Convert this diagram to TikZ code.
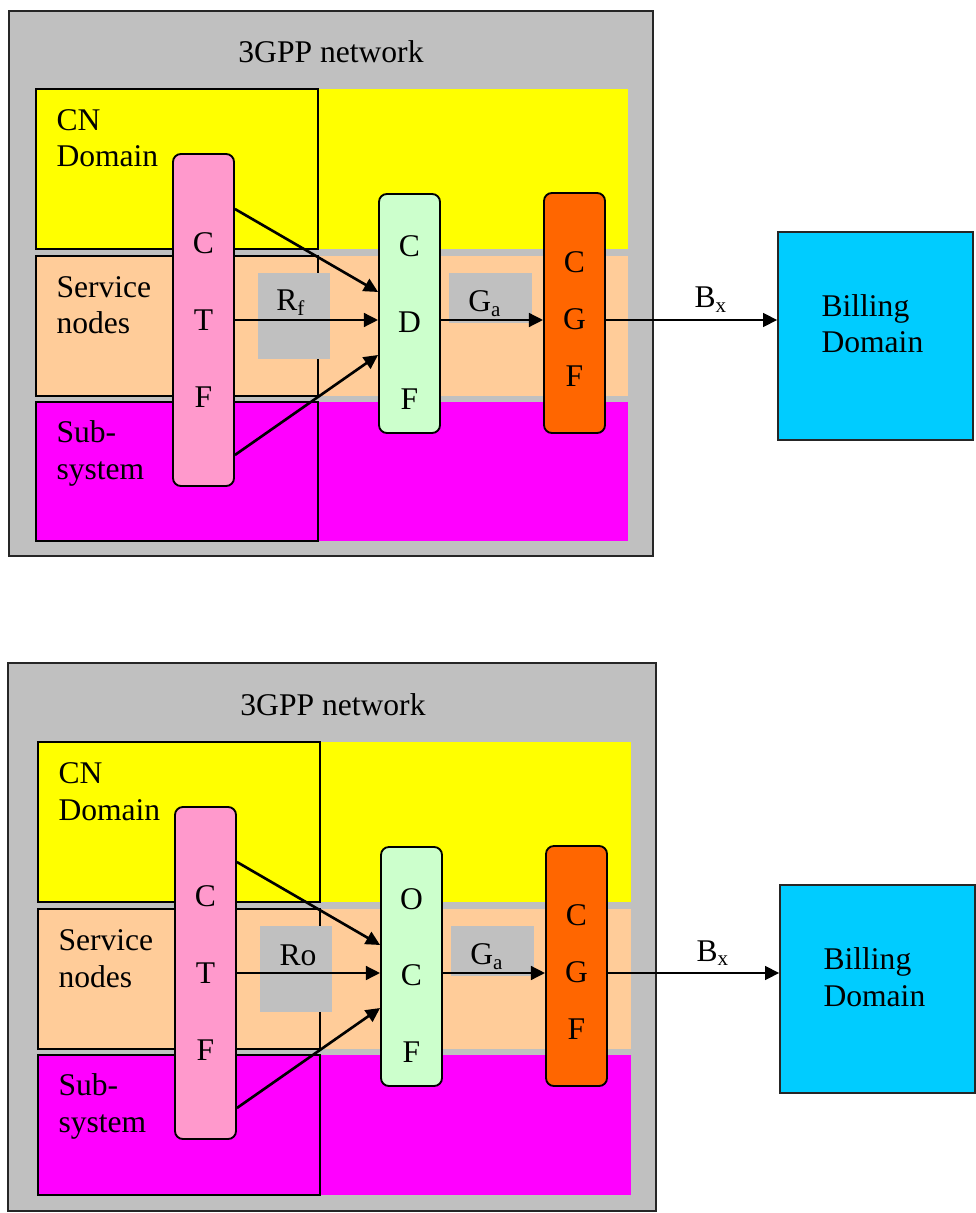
\documentclass[tikz,border=0pt]{standalone}
\usepackage{fontspec}
\setmainfont{Liberation Serif}
\usetikzlibrary{arrows.meta, calc}
\newlength\pxl
\setlength\pxl{0.38pt}
\definecolor{netgray}{HTML}{C0C0C0}
\definecolor{cnyellow}{HTML}{FFFF00}
\definecolor{snpeach}{HTML}{FFCC99}
\definecolor{ssmagenta}{HTML}{FF00FF}
\definecolor{ctfpink}{HTML}{FF99CC}
\definecolor{cdfgreen}{HTML}{CCFFCC}
\definecolor{cgforange}{HTML}{FF6600}
\definecolor{billcyan}{HTML}{00CCFF}
\begin{document}
\begin{tikzpicture}[x=0.38pt, y=-0.38pt,
  font=\fontsize{12}{13.7}\selectfont,
  net/.style={draw=black!85, fill=netgray, line width=0.6pt},
  dom/.style={draw, line width=0.6pt},
  dlbl/.style={anchor=base west, align=left, inner sep=0pt},
  fn/.style={draw, rounded corners=3pt, line width=0.7pt,
             minimum width=61\pxl, inner sep=0pt},
  fnl/.style={align=center, inner sep=0pt, font=\fontsize{12}{29.1}\selectfont},
  iface/.style={fill=netgray, inner sep=0pt},
  ilbl/.style={anchor=base, inner sep=0pt},
  bill/.style={draw=black!85, fill=billcyan, line width=0.6pt,
               minimum width=195\pxl, minimum height=208\pxl, inner sep=0pt},
  arr/.style={-{Triangle[length=5.4pt, width=5.2pt]}, line width=1pt}]
\useasboundingbox (0,0) rectangle (975,1213);

% offline charging
\begin{scope}
\draw[net] (9,11) rectangle (653,556);
\node[ilbl] (net-a) at (331,62.5) {3GPP network};
\fill[cnyellow] (36,89) rectangle (628,249);
\fill[snpeach] (36,256) rectangle (628,396);
\fill[ssmagenta] (36,402) rectangle (628,541);
\draw[dom] (36,89) rectangle (318,249);
\draw[dom] (36,256) rectangle (318,396);
\draw[dom] (36,402) rectangle (318,541);
\node[dlbl] (cn-a) at (56,167) {CN\\Domain};
\node[dlbl] (sn-a) at (56,334) {Service\\nodes};
\node[dlbl] (ss-a) at (56,479) {Sub-\\system};
\node[iface, minimum width=72\pxl, minimum height=86\pxl] (rf-a) at (294,316) {};
\node[ilbl] (rf-a-l) at (291,311) {R\textsubscript{f}};
\node[iface, minimum width=83\pxl, minimum height=50\pxl] (ga-a) at (490.5,298) {};
\node[ilbl] (ga-a-l) at (485,311.5) {G\textsubscript{a}};
\node[fn, fill=ctfpink, minimum height=332\pxl, fnl] (ctf-a) at (203.5,320) {C\\T\\F};
\node[fn, fill=cdfgreen, minimum height=239\pxl] (cdf-a) at (409.5,313.5) {};
\node[fnl] (cdf-a-l) at (409.5,322.5) {C\\D\\F};
\node[fn, fill=cgforange, minimum height=240\pxl] (cgf-a) at (574.5,313) {};
\node[fnl, font=\fontsize{12}{21.7}\selectfont] (cgf-a-l) at (574.5,319) {C\\G\\F};
\node[bill] (bill-a) at (875.5,336) {};
\node[dlbl] (bill-a-l) at (821,353) {Billing\\Domain};
\node[ilbl] (bx-a) at (711,308) {B\textsubscript{x}};
\draw[arr] ($(ctf-a.east)+(0,-111)$) -- ($(cdf-a.west)+(0,-21.5)$);
\draw[arr] (ctf-a.east) -- (ctf-a.east -| cdf-a.west);
\draw[arr] ($(ctf-a.east)+(0,135)$) -- ($(cdf-a.west)+(0,41.5)$);
\draw[arr] (ctf-a.east -| cdf-a.east) -- (ctf-a.east -| cgf-a.west);
\draw[arr] (ctf-a.east -| cgf-a.east) -- (ctf-a.east -| bill-a.west);
\end{scope}

% online charging
\begin{scope}[shift={(2,653)}]
\draw[net] (6,10) rectangle (654,558);
\node[ilbl] (net-b) at (331,62.5) {3GPP network};
\fill[cnyellow] (36,89) rectangle (628.5,249);
\fill[snpeach] (36,256) rectangle (628.5,396);
\fill[ssmagenta] (36,402) rectangle (628.5,542);
\draw[dom] (36,89) rectangle (318,249);
\draw[dom] (36,256) rectangle (318,396);
\draw[dom] (36,402) rectangle (318,542);
\node[dlbl] (cn-b) at (56,167) {CN\\Domain};
\node[dlbl] (sn-b) at (56,334) {Service\\nodes};
\node[dlbl] (ss-b) at (56,479) {Sub-\\system};
\node[iface, minimum width=72\pxl, minimum height=86\pxl] (ro-b) at (294,316) {};
\node[ilbl] (ro-b-l) at (296,312) {Ro};
\node[iface, minimum width=83\pxl, minimum height=50\pxl] (ga-b) at (490.5,298) {};
\node[ilbl] (ga-b-l) at (485,311.5) {G\textsubscript{a}};
\node[fn, fill=ctfpink, minimum height=332\pxl, fnl] (ctf-b) at (203.5,320) {C\\T\\F};
\node[fn, fill=cdfgreen, minimum height=239\pxl] (ocf-b) at (409.5,313.5) {};
\node[fnl] (ocf-b-l) at (409.5,322.5) {O\\C\\F};
\node[fn, fill=cgforange, minimum height=240\pxl] (cgf-b) at (574.5,313) {};
\node[fnl, font=\fontsize{12}{21.7}\selectfont] (cgf-b-l) at (574.5,319) {C\\G\\F};
\node[bill] (bill-b) at (875.5,336) {};
\node[dlbl] (bill-b-l) at (821,353) {Billing\\Domain};
\node[ilbl] (bx-b) at (711,308) {B\textsubscript{x}};
\draw[arr] ($(ctf-b.east)+(0,-111)$) -- ($(ocf-b.west)+(0,-21.5)$);
\draw[arr] (ctf-b.east) -- (ctf-b.east -| ocf-b.west);
\draw[arr] ($(ctf-b.east)+(0,135)$) -- ($(ocf-b.west)+(0,41.5)$);
\draw[arr] (ctf-b.east -| ocf-b.east) -- (ctf-b.east -| cgf-b.west);
\draw[arr] (ctf-b.east -| cgf-b.east) -- (ctf-b.east -| bill-b.west);
\end{scope}
\end{tikzpicture}
\end{document}
